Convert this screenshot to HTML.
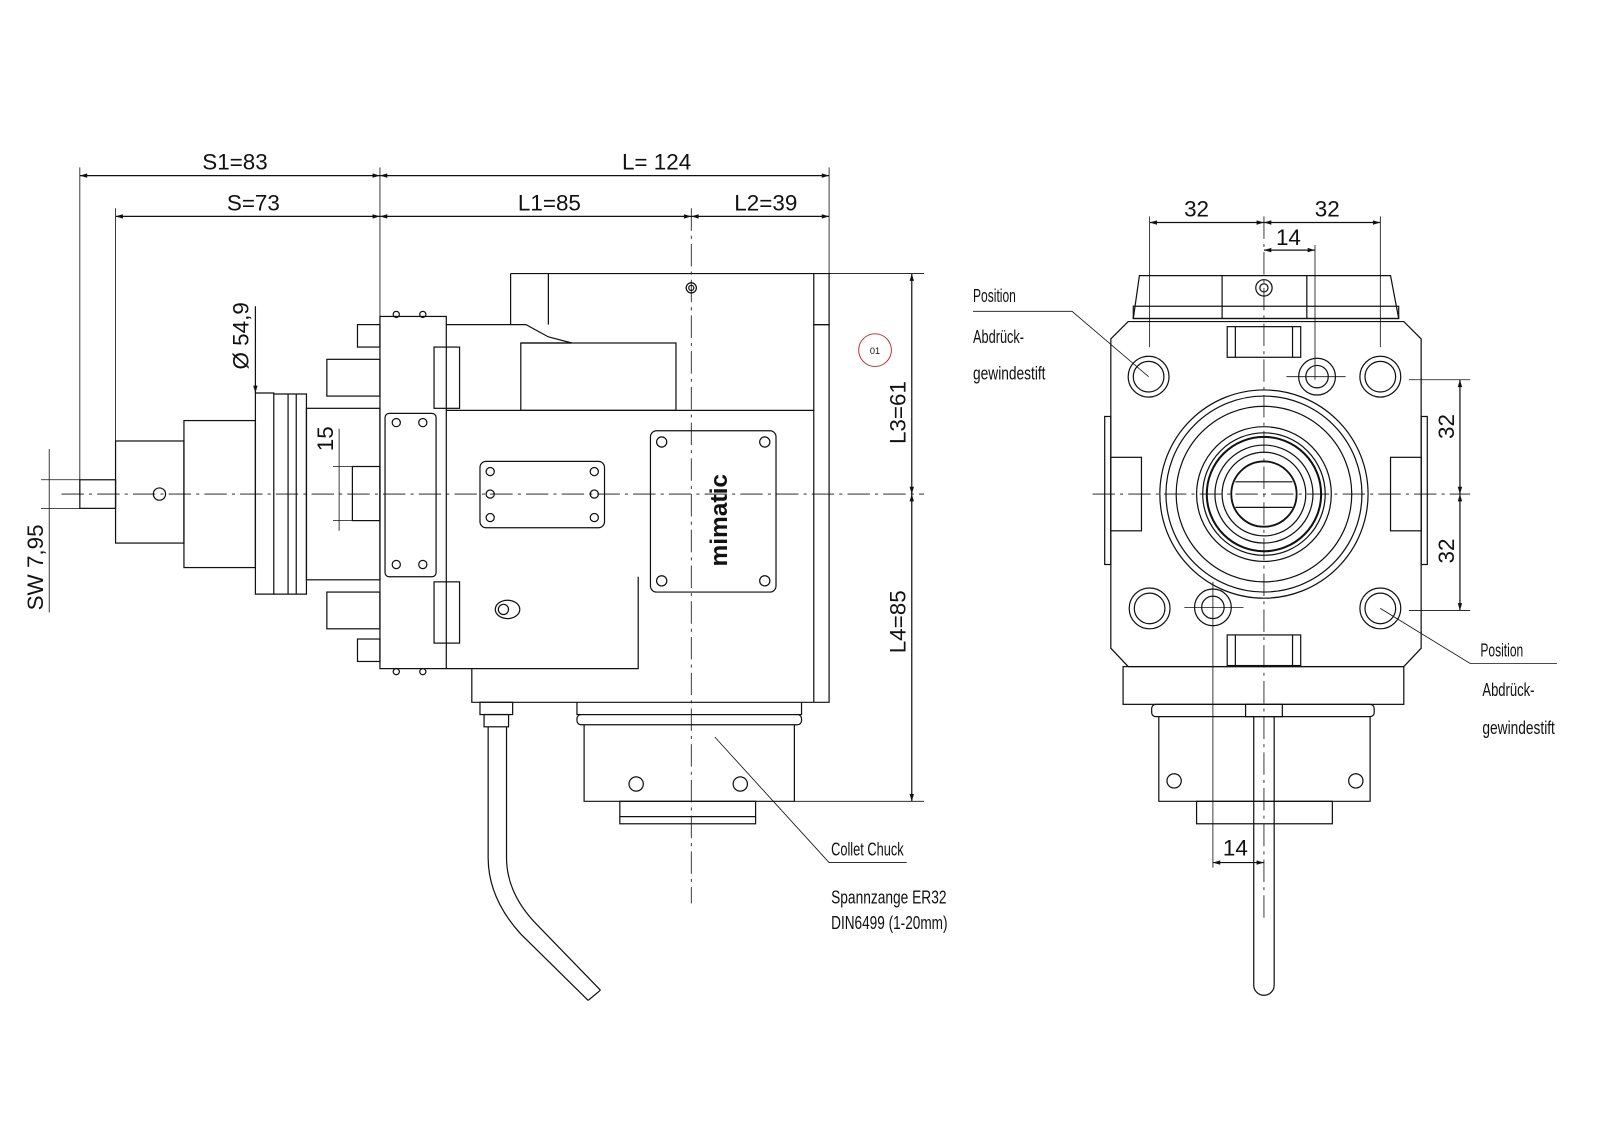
<!DOCTYPE html>
<html><head><meta charset="utf-8"><style>
html,body{margin:0;padding:0;background:#fff}
svg{display:block}
text{font-family:"Liberation Sans Narrow","Liberation Sans",sans-serif;fill:#111}
</style></head><body>
<svg width="1600" height="1129" viewBox="0 0 1567 1106" xmlns="http://www.w3.org/2000/svg">
<defs>
<marker id="a" viewBox="0 0 10 10" refX="10" refY="5" markerWidth="9" markerHeight="6" orient="auto-start-reverse"><path d="M0,2 L10,5 L0,8 z" fill="#111"/></marker>
</defs>
<g fill="none" stroke="#111" stroke-width="1.2">
<line x1="78" y1="172" x2="372" y2="172" marker-start="url(#a)" marker-end="url(#a)"/>
<line x1="372" y1="172" x2="812" y2="172" marker-start="url(#a)" marker-end="url(#a)"/>
<line x1="113" y1="212" x2="372" y2="212" marker-start="url(#a)" marker-end="url(#a)"/>
<line x1="372" y1="212" x2="677" y2="212" marker-start="url(#a)" marker-end="url(#a)"/>
<line x1="677" y1="212" x2="812" y2="212" marker-start="url(#a)" marker-end="url(#a)"/>
<line x1="78" y1="164" x2="78" y2="484" stroke-width="0.8"/>
<line x1="113" y1="204" x2="113" y2="432" stroke-width="0.8"/>
<line x1="372" y1="164" x2="372" y2="312" stroke-width="0.8"/>
<line x1="812" y1="164" x2="812" y2="268" stroke-width="0.8"/>
<line x1="677" y1="204" x2="677" y2="885" stroke-width="0.8" stroke-dasharray="22,5,3,5"/>
<line x1="60" y1="484" x2="905" y2="484" stroke-width="0.8" stroke-dasharray="22,5,3,5"/>
<line x1="48" y1="440" x2="48" y2="600" stroke-width="0.8"/>
<line x1="40" y1="470" x2="78" y2="470" stroke-width="0.8"/>
<line x1="40" y1="498" x2="78" y2="498" stroke-width="0.8"/>
<line x1="250" y1="300" x2="250" y2="385" marker-end="url(#a)"/>
<line x1="332" y1="420" x2="332" y2="520" stroke-width="0.8"/>
<line x1="326" y1="457" x2="350" y2="457" stroke-width="0.8"/>
<line x1="326" y1="510" x2="350" y2="510" stroke-width="0.8"/>
<rect x="78" y="470" width="35" height="28"/>
<rect x="113" y="432" width="67" height="100"/>
<rect x="180" y="412" width="70" height="144"/>
<path d="M250,385 L268,385 L268,582 L250,582 Z"/>
<path d="M268,386 L300,386 L300,582 L268,582"/>
<line x1="282" y1="386" x2="282" y2="582"/><line x1="290" y1="386" x2="290" y2="582"/>
<rect x="300" y="400" width="72" height="168"/>
<rect x="320" y="352" width="52" height="36"/><rect x="320" y="580" width="52" height="36"/>
<rect x="350" y="318" width="22" height="22"/><rect x="350" y="626" width="22" height="22"/>
<rect x="345" y="457" width="27" height="53"/>
<circle cx="156" cy="484" r="6"/>
<rect x="372" y="310" width="65" height="345"/>
<rect x="377" y="405" width="50" height="160" rx="4"/>
<circle cx="388" cy="414" r="4"/><circle cx="414" cy="414" r="4"/><circle cx="388" cy="553" r="4"/><circle cx="414" cy="553" r="4"/>
<circle cx="388" cy="308" r="3"/><circle cx="414" cy="308" r="3"/><circle cx="388" cy="658" r="3"/><circle cx="414" cy="658" r="3"/>
<rect x="425" y="340" width="25" height="60"/><rect x="425" y="570" width="25" height="60"/>
<path d="M500,268 L812,268 L812,318 L797,318 L797,268"/>
<line x1="500" y1="268" x2="500" y2="318"/>
<path d="M537,268 L537,318"/>
<path d="M437,318 L515,318 L537,330 L560,336 L510,336"/>
<rect x="510" y="336" width="152" height="66"/>
<circle cx="677" cy="282" r="5"/><circle cx="677" cy="282" r="2.5"/>
<path d="M437,402 L797,402 L797,318 L812,318 L812,688 L797,688"/>
<line x1="797" y1="402" x2="797" y2="688"/>
<path d="M437,655 L462,655 L462,688 L797,688"/>
<path d="M462,655 L625,655 L625,565"/>
<rect x="470" y="452" width="122" height="65" rx="6"/>
<circle cx="480" cy="462" r="4"/><circle cx="582" cy="462" r="4"/><circle cx="480" cy="507" r="4"/><circle cx="582" cy="507" r="4"/><circle cx="480" cy="484" r="4"/><circle cx="582" cy="484" r="4"/>
<rect x="637" y="422" width="123" height="158" rx="6"/>
<circle cx="648" cy="433" r="5"/><circle cx="749" cy="433" r="5"/><circle cx="648" cy="569" r="5"/><circle cx="749" cy="569" r="5"/>
<ellipse cx="497" cy="597" rx="12" ry="9"/><circle cx="493" cy="597" r="5"/>
<path d="M565,688 L565,700 L785,700 L785,688"/>
<rect x="565" y="700" width="220" height="10" rx="4"/>
<path d="M572,710 L572,785 L778,785 L778,710"/>
<rect x="607" y="785" width="133" height="22"/>
<line x1="607" y1="800" x2="740" y2="800"/>
<circle cx="623" cy="768" r="7"/><circle cx="725" cy="768" r="7"/>
<rect x="470" y="688" width="32" height="12"/>
<rect x="474" y="700" width="24" height="12"/>
<path d="M478,712 L478,840 Q478,880 510,915 L576,980"/>
<path d="M496,712 L496,840 Q496,875 525,905 L588,970"/>
<line x1="576" y1="980" x2="588" y2="970"/>
<line x1="893" y1="268" x2="893" y2="484" marker-start="url(#a)" marker-end="url(#a)"/>
<line x1="893" y1="484" x2="893" y2="785" marker-start="url(#a)" marker-end="url(#a)"/>
<line x1="812" y1="268" x2="905" y2="268" stroke-width="0.8"/>
<line x1="778" y1="785" x2="905" y2="785" stroke-width="0.8"/>
<polyline points="700,722 812,845 888,845" stroke-width="0.8"/>
<circle cx="857" cy="343" r="16" stroke="#b22" stroke-width="0.9"/>

<line x1="1126" y1="212" x2="1126" y2="340" stroke-width="0.8"/>
<line x1="1352" y1="212" x2="1352" y2="340" stroke-width="0.8"/>
<line x1="1238" y1="212" x2="1238" y2="900" stroke-width="0.8" stroke-dasharray="22,5,3,5"/>
<line x1="1288" y1="240" x2="1288" y2="372" stroke-width="0.8"/>
<line x1="1126" y1="218" x2="1238" y2="218" marker-start="url(#a)" marker-end="url(#a)"/>
<line x1="1238" y1="218" x2="1352" y2="218" marker-start="url(#a)" marker-end="url(#a)"/>
<line x1="1238" y1="245" x2="1288" y2="245" marker-start="url(#a)" marker-end="url(#a)"/>
<line x1="1070" y1="484" x2="1440" y2="484" stroke-width="0.8" stroke-dasharray="22,5,3,5"/>
<line x1="1380" y1="372" x2="1440" y2="372" stroke-width="0.8"/>
<line x1="1380" y1="598" x2="1440" y2="598" stroke-width="0.8"/>
<line x1="1430" y1="372" x2="1430" y2="484" marker-start="url(#a)" marker-end="url(#a)"/>
<line x1="1430" y1="484" x2="1430" y2="598" marker-start="url(#a)" marker-end="url(#a)"/>
<path d="M1110,312 L1116,270 L1362,270 L1370,312 Z"/>
<rect x="1110" y="300" width="260" height="12"/>
<line x1="1197" y1="270" x2="1197" y2="312"/><line x1="1280" y1="270" x2="1280" y2="312"/>
<circle cx="1238" cy="282" r="8"/><circle cx="1238" cy="282" r="4"/>
<path d="M1105,315 L1375,315 L1392,332 L1392,635 L1375,653 L1105,653 L1088,635 L1088,332 Z"/>
<rect x="1202" y="320" width="72" height="30"/><rect x="1202" y="622" width="72" height="30"/>
<line x1="1210" y1="320" x2="1210" y2="350"/><line x1="1266" y1="320" x2="1266" y2="350"/>
<line x1="1210" y1="622" x2="1210" y2="652"/><line x1="1266" y1="622" x2="1266" y2="652"/>
<rect x="1088" y="448" width="30" height="72"/><rect x="1362" y="448" width="30" height="72"/>
<rect x="1082" y="408" width="6" height="145"/><rect x="1392" y="408" width="6" height="145"/>
<circle cx="1125" cy="369" r="20"/><circle cx="1125" cy="369" r="15"/>
<circle cx="1352" cy="369" r="20"/><circle cx="1352" cy="369" r="15"/>
<circle cx="1126" cy="596" r="20"/><circle cx="1126" cy="596" r="15"/>
<circle cx="1352" cy="596" r="20"/><circle cx="1352" cy="596" r="15"/>
<circle cx="1290" cy="369" r="18"/><circle cx="1290" cy="369" r="11"/>
<circle cx="1188" cy="595" r="18"/><circle cx="1188" cy="595" r="11"/>
<line x1="1260" y1="369" x2="1318" y2="369" stroke-width="0.8"/>
<line x1="1160" y1="595" x2="1218" y2="595" stroke-width="0.8"/>
<line x1="1188" y1="570" x2="1188" y2="850" stroke-width="0.8"/>
<circle cx="1238" cy="484" r="102"/><circle cx="1238" cy="484" r="96"/><circle cx="1238" cy="484" r="86"/>
<circle cx="1238" cy="484" r="66"/><circle cx="1238" cy="484" r="60"/><circle cx="1238" cy="484" r="56" stroke-width="2"/>
<circle cx="1238" cy="484" r="48"/><circle cx="1238" cy="484" r="41"/><circle cx="1238" cy="484" r="32" stroke-width="1.8"/>
<line x1="1210" y1="472" x2="1266" y2="472"/><line x1="1210" y1="497" x2="1266" y2="497"/>
<rect x="1100" y="653" width="275" height="37"/>
<rect x="1128" y="690" width="218" height="12" rx="4"/>
<path d="M1135,702 L1135,785 L1342,785 L1342,702"/>
<rect x="1172" y="785" width="133" height="22"/>
<circle cx="1150" cy="765" r="7"/><circle cx="1328" cy="765" r="7"/>
<rect x="1220" y="690" width="36" height="12"/>
<path d="M1228,702 L1228,965 A10,10 0 0 0 1248,965 L1248,702"/>
<line x1="1188" y1="845" x2="1238" y2="845" marker-start="url(#a)" marker-end="url(#a)"/>
<polyline points="953,305 1050,305 1125,369" stroke-width="0.8"/>
<polyline points="1352,596 1440,650 1525,650" stroke-width="0.8"/>
</g>
<g font-size="22">
<text x="230" y="166" text-anchor="middle">S1=83</text>
<text x="643" y="166" text-anchor="middle">L= 124</text>
<text x="248" y="206" text-anchor="middle">S=73</text>
<text x="538" y="206" text-anchor="middle">L1=85</text>
<text x="750" y="206" text-anchor="middle">L2=39</text>
<text transform="translate(243,362) rotate(-90)">Ø 54,9</text>
<text transform="translate(326,442) rotate(-90)">15</text>
<text transform="translate(42,598) rotate(-90)">SW 7,95</text>
<text transform="translate(887,435) rotate(-90)">L3=61</text>
<text transform="translate(887,640) rotate(-90)">L4=85</text>
<text x="1172" y="212" text-anchor="middle">32</text>
<text x="1300" y="212" text-anchor="middle">32</text>
<text x="1262" y="240" text-anchor="middle">14</text>
<text transform="translate(1424,430) rotate(-90)">32</text>
<text transform="translate(1424,552) rotate(-90)">32</text>
<text x="1210" y="838" text-anchor="middle">14</text>
</g>
<g font-size="18" lengthAdjust="spacingAndGlyphs">
<text x="814" y="838" textLength="71" lengthAdjust="spacingAndGlyphs">Collet Chuck</text>
<text x="814" y="885" textLength="113" lengthAdjust="spacingAndGlyphs">Spannzange ER32</text>
<text x="814" y="910" textLength="114" lengthAdjust="spacingAndGlyphs">DIN6499 (1-20mm)</text>
<text x="953" y="296" textLength="42" lengthAdjust="spacingAndGlyphs">Position</text>
<text x="953" y="336" textLength="50" lengthAdjust="spacingAndGlyphs">Abdrück-</text>
<text x="953" y="372" textLength="71" lengthAdjust="spacingAndGlyphs">gewindestift</text>
<text x="1450" y="643" textLength="42" lengthAdjust="spacingAndGlyphs">Position</text>
<text x="1452" y="682" textLength="51" lengthAdjust="spacingAndGlyphs">Abdrück-</text>
<text x="1452" y="719" textLength="71" lengthAdjust="spacingAndGlyphs">gewindestift</text>
</g>
<text transform="translate(712,555) rotate(-90)" font-size="24" font-weight="bold" fill="#333">mimatic</text>
<text x="857" y="347" font-size="9" text-anchor="middle" fill="#b22">01</text>
</svg>
</body></html>
